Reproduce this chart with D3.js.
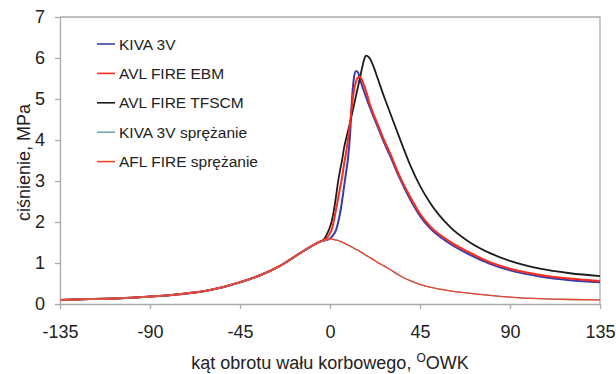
<!DOCTYPE html>
<html lang="pl">
<head>
<meta charset="utf-8">
<title>ciśnienie</title>
<script src="https://d3js.org/d3.v7.min.js"></script>
<style>
  body { margin: 0; background: #fff; }
  svg text { font-family: "Liberation Sans", Arial, sans-serif; fill: #222; }
</style>
</head>
<body>
<script>
// kąt obrotu wału, deg
var angles = [-135,-120,-105,-90,-75,-60,-45,-35,-25,-15,-10,-5,-3,-1,0,1,2,3,4,5,6,7,8,9,10,11,12,13,14,15,16,17,18,19,20,22,24,27,30,35,40,45,50,60,70,80,90,105,120,135];

var kiva3v = [0.10,0.12,0.14,0.18,0.24,0.34,0.53,0.70,0.93,1.24,1.39,1.52,1.55,1.57,1.60,1.65,1.71,1.80,1.98,2.20,2.50,2.85,3.20,3.55,4.10,5.00,5.52,5.68,5.65,5.48,5.33,5.19,5.05,4.92,4.79,4.54,4.30,3.94,3.62,3.05,2.56,2.15,1.85,1.47,1.20,0.98,0.82,0.67,0.58,0.53];
var avlEbm = [0.10,0.12,0.14,0.18,0.24,0.34,0.53,0.70,0.93,1.24,1.39,1.52,1.56,1.64,1.73,1.83,2.05,2.30,2.56,2.82,3.08,3.40,3.68,4.02,4.40,4.85,5.22,5.42,5.53,5.54,5.46,5.34,5.20,5.03,4.86,4.60,4.36,4.00,3.68,3.10,2.62,2.20,1.90,1.52,1.25,1.02,0.86,0.71,0.62,0.56];
var avlTfscm = [0.10,0.12,0.14,0.18,0.24,0.34,0.53,0.70,0.93,1.24,1.39,1.52,1.58,1.76,1.88,2.05,2.30,2.62,2.97,3.25,3.50,3.80,4.02,4.22,4.42,4.63,4.85,5.08,5.30,5.52,5.75,5.95,6.06,6.04,5.98,5.76,5.48,5.06,4.67,4.02,3.40,2.88,2.47,1.88,1.50,1.24,1.05,0.86,0.75,0.68];
var kivaSpr = [0.10,0.12,0.14,0.18,0.24,0.34,0.53,0.70,0.93,1.24,1.39,1.51,1.55,1.57,1.58,1.58,1.57,1.56,1.55,1.53,1.51,1.49,1.46,1.44,1.41,1.39,1.36,1.33,1.31,1.28,1.25,1.22,1.19,1.16,1.13,1.07,1.01,0.93,0.84,0.69,0.57,0.48,0.41,0.32,0.26,0.21,0.17,0.13,0.11,0.10];
var aflSpr = kivaSpr.slice();

var seriesNames = ["KIVA 3V", "AVL FIRE EBM", "AVL FIRE TFSCM", "KIVA 3V sprężanie", "AFL FIRE sprężanie"];
var seriesColors = ["#3b3ba6", "#ff2a1c", "#1c1c1c", "#6fabb0", "#f2432c"];
var seriesWidths = [2, 2, 1.8, 1.3, 1.3];
var xTicks = [-135, -90, -45, 0, 45, 90, 135];
var yTicks = [0, 1, 2, 3, 4, 5, 6, 7];

var W = 616, H = 374;
var m = {left: 60, right: 16, top: 17, bottom: 70};

var svg = d3.select("body").append("svg")
    .attr("width", W)
    .attr("height", H);

var x = d3.scaleLinear().domain([-135, 135]).range([m.left, W - m.right]);
var y = d3.scaleLinear().domain([0, 7]).range([H - m.bottom, m.top]);

// frame
svg.append("path")
    .attr("d", "M" + x(-135) + "," + y(7) + "H" + x(135) + "V" + y(0))
    .attr("fill", "none")
    .attr("stroke", "#aaa")
    .attr("stroke-width", 1.3);

var plain = function(d) { return String(d); };

var gx = svg.append("g")
    .attr("transform", "translate(0," + y(0) + ")")
    .call(d3.axisBottom(x).tickValues(xTicks).tickFormat(plain)
        .tickSize(5).tickSizeOuter(0).tickPadding(16));
var gy = svg.append("g")
    .attr("transform", "translate(" + x(-135) + ",0)")
    .call(d3.axisLeft(y).tickValues(yTicks).tickFormat(plain)
        .tickSize(5).tickSizeOuter(0).tickPadding(10));

[gx, gy].forEach(function(g) {
    g.select(".domain").attr("stroke", "#aaa").attr("stroke-width", 1.3);
    g.selectAll(".tick line").attr("stroke", "#aaa").attr("stroke-width", 1.3);
    g.selectAll(".tick text")
        .attr("font-size", 18)
        .attr("font-family", "Liberation Sans, Arial, sans-serif")
        .attr("fill", "#222");
});

var line = d3.line()
    .x(function(d) { return x(d[0]); })
    .y(function(d) { return y(d[1]); })
    .curve(d3.curveMonotoneX);

var allSeries = [kiva3v, avlEbm, avlTfscm, kivaSpr, aflSpr];
var drawOrder = [0, 2, 1, 3, 4];

drawOrder.forEach(function(i) {
    var pts = angles.map(function(a, k) { return [a, allSeries[i][k]]; });
    svg.append("path")
        .datum(pts)
        .attr("fill", "none")
        .attr("stroke", seriesColors[i])
        .attr("stroke-width", seriesWidths[i])
        .attr("stroke-linejoin", "round")
        .attr("d", line);
});

// legend
var leg = svg.append("g");
seriesNames.forEach(function(name, i) {
    var ly = 44 + i * 29.4;
    leg.append("line")
        .attr("x1", 97).attr("x2", 115)
        .attr("y1", ly).attr("y2", ly)
        .attr("stroke", seriesColors[i])
        .attr("stroke-width", 1.6);
    leg.append("text")
        .attr("x", 119)
        .attr("y", ly)
        .attr("dy", "0.36em")
        .attr("font-size", 15.5)
        .text(name);
});

// axis titles
svg.append("text")
    .attr("transform", "translate(30," + ((y(0) + y(7)) / 2 + 2) + ") rotate(-90)")
    .attr("text-anchor", "middle")
    .attr("font-size", 18)
    .text("ciśnienie, MPa");

var xt = svg.append("text")
    .attr("x", x(0))
    .attr("y", 369)
    .attr("text-anchor", "middle")
    .attr("font-size", 18);
xt.append("tspan").text("kąt obrotu wału korbowego, ");
xt.append("tspan").attr("font-size", 12).attr("dy", -7).text("O");
xt.append("tspan").attr("dy", 7).text("OWK");
</script>
</body>
</html>
